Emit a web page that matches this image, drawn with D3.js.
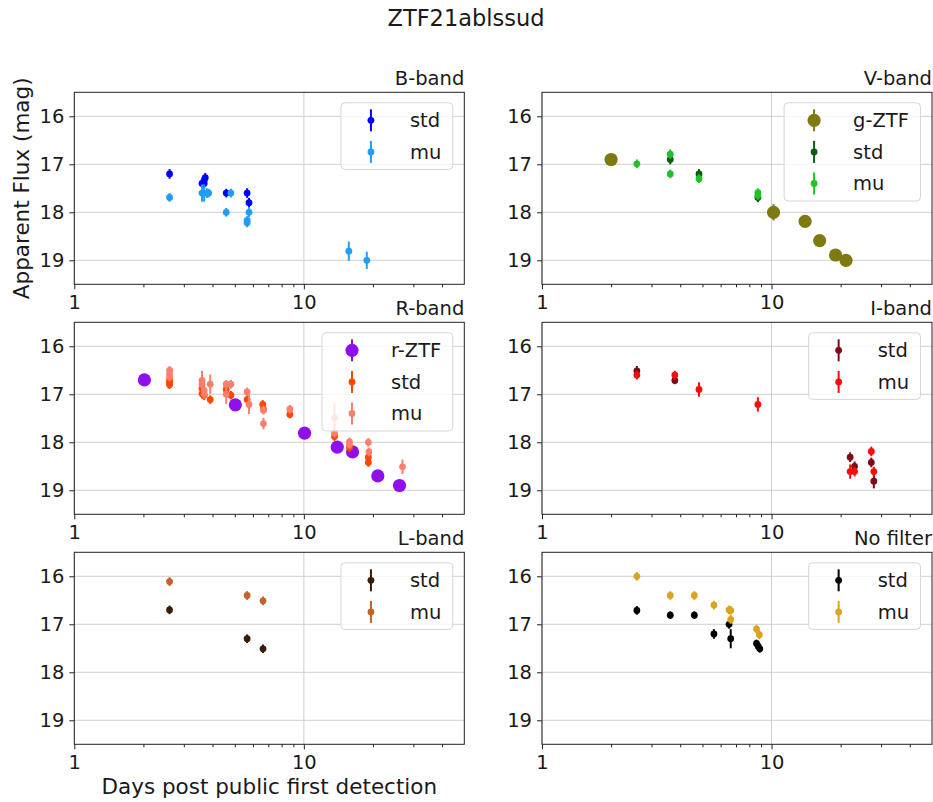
<!DOCTYPE html>
<html>
<head>
<meta charset="utf-8">
<script src="https://cdn.jsdelivr.net/npm/d3@7"></script>
<style>
  html, body { margin: 0; padding: 0; background: #ffffff; }
  svg text { font-family: "DejaVu Sans", sans-serif; fill: #1a1a1a; }
</style>
</head>
<body>
<svg id="chart" width="933" height="802"></svg>
<script>
// ---------------- DATA ----------------
const figTitle = "ZTF21ablssud";
const yLabel = "Apparent Flux (mag)";
const xLabel = "Days post public first detection";
const panelTitles = ["B-band", "V-band", "R-band", "I-band", "L-band", "No filter"];
const xTickValues = [1, 10];
const xMinorTicks = [2, 3, 4, 5, 6, 7, 8, 9, 20, 30, 40];
const yTickValues = [16, 17, 18, 19];

// B-band
const B_std_day = [2.60, 3.60, 3.68, 3.72, 3.68, 4.59, 5.66, 5.77];
const B_std_mag = [17.20, 17.40, 17.33, 17.28, 17.40, 17.60, 17.60, 17.80];
const B_std_err = [0.10, 0.10, 0.10, 0.10, 0.10, 0.09, 0.10, 0.10];
const B_mu_day = [2.60, 3.60, 3.68, 3.78, 3.85, 4.59, 4.81, 5.66, 5.66, 5.77, 15.7, 18.8];
const B_mu_mag = [17.69, 17.60, 17.60, 17.60, 17.60, 18.00, 17.60, 18.17, 18.22, 18.00, 18.81, 19.00];
const B_mu_err = [0.09, 0.18, 0.18, 0.10, 0.09, 0.09, 0.09, 0.09, 0.09, 0.10, 0.20, 0.18];

// V-band
const V_g_day = [2.00, 10.2, 14.0, 16.2, 19.0, 21.1];
const V_g_mag = [16.90, 18.00, 18.19, 18.59, 18.89, 19.00];
const V_g_err = [0.03, 0.17, 0.03, 0.03, 0.03, 0.03];
const V_std_day = [3.62, 4.83, 8.72];
const V_std_mag = [16.90, 17.20, 17.69];
const V_std_err = [0.10, 0.10, 0.10];
const V_mu_day = [2.59, 3.62, 3.62, 4.83, 8.72, 8.72];
const V_mu_mag = [16.99, 16.79, 17.20, 17.30, 17.59, 17.65];
const V_mu_err = [0.09, 0.10, 0.09, 0.09, 0.09, 0.09];

// R-band
const R_r_day = [2.02, 5.03, 10.07, 13.98, 16.3, 21.0, 26.1];
const R_r_mag = [16.70, 17.22, 17.81, 18.10, 18.20, 18.70, 18.90];
const R_r_err = [0.02, 0.03, 0.03, 0.12, 0.03, 0.03, 0.03];
const R_std_day = [2.60, 2.60, 2.60, 3.60, 3.60, 3.68, 3.91, 4.59, 4.81, 5.66, 6.62, 6.67, 8.69, 13.6, 15.8, 19.1, 19.1];
const R_std_mag = [16.70, 16.75, 16.80, 16.88, 16.99, 17.02, 17.11, 16.90, 17.02, 17.11, 17.21, 17.31, 17.42, 17.88, 18.11, 18.31, 18.42];
const R_std_err = [0.09, 0.09, 0.09, 0.10, 0.10, 0.10, 0.09, 0.09, 0.09, 0.09, 0.09, 0.09, 0.08, 0.09, 0.09, 0.09, 0.09];
const R_mu_day = [2.60, 2.60, 2.60, 3.60, 3.60, 3.68, 3.68, 3.91, 4.59, 4.59, 4.81, 5.66, 5.77, 6.67, 6.67, 8.69, 13.6, 13.6, 15.8, 15.8, 19.1, 19.2, 26.9];
const R_mu_mag = [16.50, 16.57, 16.64, 16.71, 16.79, 16.92, 16.99, 16.79, 16.79, 17.00, 16.79, 16.95, 17.21, 17.33, 17.61, 17.31, 17.49, 17.81, 17.99, 18.05, 18.00, 18.20, 18.51];
const R_mu_err = [0.09, 0.09, 0.09, 0.20, 0.15, 0.10, 0.10, 0.20, 0.09, 0.20, 0.09, 0.09, 0.20, 0.09, 0.12, 0.09, 0.30, 0.09, 0.09, 0.09, 0.09, 0.09, 0.15];

// I-band
const I_std_day = [2.59, 3.79, 22.0, 23.0, 27.2, 27.9];
const I_std_mag = [16.51, 16.71, 18.31, 18.50, 18.42, 18.81];
const I_std_err = [0.10, 0.08, 0.10, 0.10, 0.10, 0.15];
const I_mu_day = [2.59, 3.79, 4.83, 8.72, 22.0, 23.0, 27.2, 27.9];
const I_mu_mag = [16.60, 16.60, 16.90, 17.21, 18.61, 18.61, 18.19, 18.61];
const I_mu_err = [0.09, 0.09, 0.15, 0.15, 0.15, 0.10, 0.10, 0.10];

// L-band
const L_std_day = [2.60, 5.66, 6.64];
const L_std_mag = [16.70, 17.30, 17.51];
const L_std_err = [0.09, 0.09, 0.09];
const L_mu_day = [2.60, 5.66, 6.64];
const L_mu_mag = [16.11, 16.40, 16.51];
const L_mu_err = [0.09, 0.09, 0.09];

// No filter
const N_std_day = [2.59, 3.62, 4.61, 5.61, 6.53, 6.64, 8.60, 8.75, 8.89];
const N_std_mag = [16.71, 16.81, 16.81, 17.20, 17.00, 17.30, 17.40, 17.46, 17.51];
const N_std_err = [0.09, 0.08, 0.08, 0.10, 0.09, 0.20, 0.08, 0.08, 0.08];
const N_mu_day = [2.59, 3.62, 4.61, 5.61, 6.53, 6.64, 6.64, 8.60, 8.85];
const N_mu_mag = [16.00, 16.40, 16.40, 16.60, 16.70, 16.71, 16.90, 17.10, 17.22];
const N_mu_err = [0.09, 0.09, 0.09, 0.09, 0.09, 0.09, 0.09, 0.09, 0.09];

// ---------------- BUILD ----------------
function series(name, color, big, day, mag, err) {
  return { name, color, big, pts: day.map((d, i) => ({ d, m: mag[i], e: err[i] })) };
}
const panels = [
  { title: panelTitles[0], series: [
    series("std", "#0000ff", false, B_std_day, B_std_mag, B_std_err),
    series("mu", "#1e9ef8", false, B_mu_day, B_mu_mag, B_mu_err)] },
  { title: panelTitles[1], series: [
    series("g-ZTF", "#7d7a12", true, V_g_day, V_g_mag, V_g_err),
    series("std", "#0e5a14", false, V_std_day, V_std_mag, V_std_err),
    series("mu", "#22c02a", false, V_mu_day, V_mu_mag, V_mu_err)] },
  { title: panelTitles[2], series: [
    series("r-ZTF", "#8f10ec", true, R_r_day, R_r_mag, R_r_err),
    series("std", "#ff4500", false, R_std_day, R_std_mag, R_std_err),
    series("mu", "#fb7f6e", false, R_mu_day, R_mu_mag, R_mu_err)] },
  { title: panelTitles[3], series: [
    series("std", "#7e0a18", false, I_std_day, I_std_mag, I_std_err),
    series("mu", "#ff0a0a", false, I_mu_day, I_mu_mag, I_mu_err)] },
  { title: panelTitles[4], series: [
    series("std", "#3a1c06", false, L_std_day, L_std_mag, L_std_err),
    series("mu", "#c2622e", false, L_mu_day, L_mu_mag, L_mu_err)] },
  { title: panelTitles[5], series: [
    series("std", "#000000", false, N_std_day, N_std_mag, N_std_err),
    series("mu", "#dba320", false, N_mu_day, N_mu_mag, N_mu_err)] }
];

const svg = d3.select("#chart");
const colX = [74.3, 542];
const colW = 390;
const rowY = [92.3, 322.3, 552.3];
const rowH = 192;
const tickFont = 19.5;
const labelFont = 21.5;
const rSmall = 3.4, rBig = 6.6;

panels.forEach((p, i) => {
  const x0 = colX[i % 2], y0 = rowY[Math.floor(i / 2)];
  const g = svg.append("g").attr("transform", `translate(${x0},${y0})`);
  const x = d3.scaleLog().domain([1, 50]).range([0, colW]);
  const y = d3.scaleLinear().domain([15.5, 19.5]).range([0, rowH]);

  // grid
  g.append("g").selectAll("line.gy").data(yTickValues).join("line")
    .attr("x1", 0).attr("x2", colW).attr("y1", d => y(d)).attr("y2", d => y(d))
    .attr("stroke", "#cfcfcf").attr("stroke-width", 1);
  g.append("g").selectAll("line.gx").data(xTickValues).join("line")
    .attr("y1", 0).attr("y2", rowH).attr("x1", d => x(d)).attr("x2", d => x(d))
    .attr("stroke", "#cfcfcf").attr("stroke-width", 1);

  // axes
  const xAxis = d3.axisBottom(x).tickValues(xTickValues).tickFormat(d3.format("d")).tickSizeOuter(0).tickSize(5).tickPadding(6);
  const xMinor = d3.axisBottom(x).tickValues(xMinorTicks).tickFormat("").tickSizeOuter(0).tickSize(3);
  const yAxis = d3.axisLeft(y).tickValues(yTickValues).tickFormat(d3.format("d")).tickSizeOuter(0).tickSize(5).tickPadding(5);
  const gx = g.append("g").attr("transform", `translate(0,${rowH})`).call(xAxis);
  g.append("g").attr("transform", `translate(0,${rowH})`).call(xMinor).select(".domain").remove();
  const gy = g.append("g").call(yAxis);
  [gx, gy].forEach(a => {
    a.select(".domain").remove();
    a.selectAll("text").style("font-size", tickFont + "px").attr("fill", "#1a1a1a");
  });
  g.selectAll(".tick line").attr("stroke", "#222");
  g.append("rect").attr("x", 0).attr("y", 0).attr("width", colW).attr("height", rowH)
    .attr("fill", "none").attr("stroke", "#222").attr("stroke-width", 1);

  // data
  p.series.forEach(s => {
    const sg = g.append("g");
    sg.selectAll("line").data(s.pts).join("line")
      .attr("x1", d => x(d.d)).attr("x2", d => x(d.d))
      .attr("y1", d => y(d.m - d.e)).attr("y2", d => y(d.m + d.e))
      .attr("stroke", s.color).attr("stroke-width", 2);
    sg.selectAll("circle").data(s.pts).join("circle")
      .attr("cx", d => x(d.d)).attr("cy", d => y(d.m))
      .attr("r", s.big ? rBig : rSmall).attr("fill", s.color);
  });

  // panel title
  g.append("text").attr("x", colW).attr("y", -7).attr("text-anchor", "end")
    .style("font-size", tickFont + "px").text(p.title);

  // legend
  const lg = g.append("g");
  const n = p.series.length;
  const rowStep = 31.6;
  const texts = [];
  const tmp = lg.append("g");
  p.series.forEach(s => {
    const t = tmp.append("text").style("font-size", tickFont + "px").text(s.name);
    texts.push(t.node().getComputedTextLength());
  });
  tmp.remove();
  const lw = 69 + d3.max(texts) + 11.5;
  const lh = 35 + (n - 1) * rowStep;
  const lx = colW - 11.5 - lw, ly = 10.5;
  lg.append("rect").attr("x", lx).attr("y", ly).attr("width", lw).attr("height", lh)
    .attr("rx", 4).attr("fill", "#ffffff").attr("fill-opacity", 0.8)
    .attr("stroke", "#d6d6d6").attr("stroke-width", 1);
  p.series.forEach((s, k) => {
    const cy = ly + 17.5 + k * rowStep;
    lg.append("line").attr("x1", lx + 30).attr("x2", lx + 30).attr("y1", cy - 11).attr("y2", cy + 11)
      .attr("stroke", s.color).attr("stroke-width", 2);
    lg.append("circle").attr("cx", lx + 30).attr("cy", cy).attr("r", s.big ? rBig : rSmall).attr("fill", s.color);
    lg.append("text").attr("x", lx + 69).attr("y", cy + 7).style("font-size", tickFont + "px").text(s.name);
  });
});

// figure title and axis labels
svg.append("text").attr("x", 466).attr("y", 26).attr("text-anchor", "middle")
  .style("font-size", "22.5px").text(figTitle);
svg.append("text").attr("transform", `translate(29,${rowY[0] + rowH / 2}) rotate(-90)`)
  .attr("text-anchor", "middle").style("font-size", labelFont + "px").text(yLabel);
svg.append("text").attr("x", colX[0] + colW / 2).attr("y", 794).attr("text-anchor", "middle")
  .style("font-size", labelFont + "px").text(xLabel);
</script>
</body>
</html>
